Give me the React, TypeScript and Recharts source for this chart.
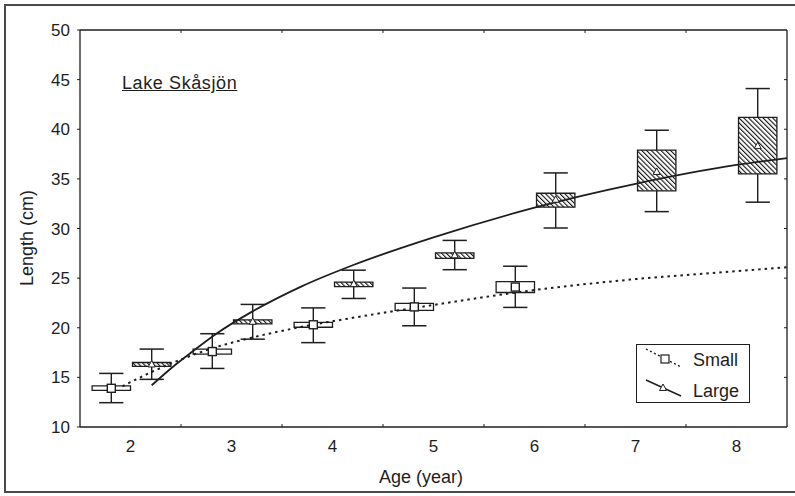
import React from "react";
import {
  ComposedChart,
  XAxis,
  YAxis,
  Line,
  Scatter,
  ReferenceArea,
  ReferenceLine,
  Legend,
} from "recharts";

const FONT = "'Liberation Sans', Arial, Helvetica, sans-serif";
const INK = "#1e1e1e";

// ages of the box plots
const ages = [2, 3, 4, 5, 6, 7, 8];
const yTicks = [10, 15, 20, 25, 30, 35, 40, 45, 50];
const minorX = [2.5, 3.5, 4.5, 5.5, 6.5, 7.5];

// small fish (ages 2-6)
const smallMin = [12.45, 15.9, 18.5, 20.2, 22.05];
const smallQ1 = [13.7, 17.35, 20.05, 21.75, 23.55];
const smallMean = [13.9, 17.6, 20.3, 22.1, 24.1];
const smallQ3 = [14.15, 17.85, 20.55, 22.45, 24.65];
const smallMax = [15.4, 19.4, 22.0, 24.0, 26.2];

// large fish (ages 2-8)
const largeMin = [14.8, 18.85, 22.95, 25.85, 30.05, 31.7, 32.65];
const largeQ1 = [16.1, 20.4, 24.15, 27.0, 32.15, 33.8, 35.5];
const largeMean = [16.3, 20.6, 24.4, 27.3, 32.9, 35.7, 38.3];
const largeQ3 = [16.5, 20.8, 24.6, 27.55, 33.55, 37.9, 41.2];
const largeMax = [17.85, 22.35, 25.8, 28.8, 35.6, 39.9, 44.1];

// fitted growth curves
const smallCurveAge = [1.92, 2.2, 2.5, 2.8, 3.2, 3.7, 4.2, 5, 6, 7, 8, 8.5];
const smallCurveLen = [14.1, 15.5, 16.8, 17.9, 19.0, 20.1, 21.0, 22.3, 23.8, 24.9, 25.7, 26.1];
const largeCurveAge = [2.21, 2.4, 2.6, 2.85, 3.2, 3.7, 4.2, 5, 6, 7, 8, 8.5];
const largeCurveLen = [14.2, 15.9, 17.5, 19.4, 21.6, 24.2, 26.3, 29.1, 32.1, 34.5, 36.4, 37.1];

const SMALL_OFF = -0.19;
const LARGE_OFF = 0.21;
const BOX_HALF = 0.19;
const CAP_HALF = 0.12;

type Box = { age: number; min: number; q1: number; mean: number; q3: number; max: number; kind: string };

const smallBoxes: Box[] = smallMean.map((m, i) => ({
  age: ages[i] + SMALL_OFF, min: smallMin[i], q1: smallQ1[i], mean: m, q3: smallQ3[i], max: smallMax[i], kind: "s",
}));
const largeBoxes: Box[] = largeMean.map((m, i) => ({
  age: ages[i] + LARGE_OFF, min: largeMin[i], q1: largeQ1[i], mean: m, q3: largeQ3[i], max: largeMax[i], kind: "l",
}));
const allBoxes = [...smallBoxes, ...largeBoxes];

const smallCurve = smallCurveAge.map((a, i) => ({ age: a, len: smallCurveLen[i] }));
const largeCurve = largeCurveAge.map((a, i) => ({ age: a, len: largeCurveLen[i] }));

const SquareMark = (p: any) => (
  <rect x={p.cx - 4} y={p.cy - 4} width={8} height={8} fill="#fff" stroke={INK} strokeWidth={1.4} />
);
const TriMark = (p: any) => (
  <polygon
    points={`${p.cx},${p.cy - 4} ${p.cx - 3.5},${p.cy + 2.5} ${p.cx + 3.5},${p.cy + 2.5}`}
    fill="#fff"
    stroke={INK}
    strokeWidth={1}
  />
);

const LegendBox = () => (
  <div style={{ width: 114, height: 59, border: `1.5px solid ${INK}`, background: "#fff", boxSizing: "border-box" }}>
    <svg width={112} height={56} style={{ display: "block" }}>
      <line x1={9} y1={4} x2={44} y2={22} stroke={INK} strokeWidth={1.4} strokeDasharray="2 2.5" />
      <rect x={24} y={10} width={8} height={8} fill="#fff" stroke={INK} strokeWidth={1.2} />
      <text x={56} y={21} fontSize={18} fontFamily={FONT} fill={INK}>Small</text>
      <line x1={9} y1={35} x2={44} y2={51} stroke={INK} strokeWidth={1.5} />
      <polygon points="26,39 22.5,45.5 29.5,45.5" fill="#fff" stroke={INK} strokeWidth={1} />
      <text x={56} y={52} fontSize={18} fontFamily={FONT} fill={INK}>Large</text>
    </svg>
  </div>
);

export default function App() {
  return (
    <div style={{ position: "absolute", left: 0, top: 0, width: 795, height: 496, background: "#fff", overflow: "hidden" }}>
      <div
        style={{
          position: "absolute", left: 4, top: 4, width: 800, height: 489,
          border: "2px solid #4a4a4a", boxSizing: "border-box",
        }}
      />
      <div
        style={{
          position: "absolute", left: 122, top: 73, fontFamily: FONT, fontSize: 18,
          letterSpacing: 0.6, color: INK, textDecoration: "underline", lineHeight: "20px",
        }}
      >
        Lake Skåsjön
      </div>
      <ComposedChart width={795} height={496} margin={{ top: 30, right: 8, bottom: 0, left: 0 }}>
        <defs>
          <pattern id="hatch" patternUnits="userSpaceOnUse" width={3.4} height={3.4} patternTransform="rotate(-45)">
            <rect width={3.4} height={3.4} fill="#fff" />
            <line x1={0} y1={0} x2={0} y2={3.4} stroke="#111" strokeWidth={2.2} />
          </pattern>
        </defs>
        <XAxis
          dataKey="age"
          type="number"
          domain={[1.5, 8.5]}
          ticks={ages}
          height={69}
          tickLine={false}
          tickSize={0}
          tickMargin={13}
          axisLine={{ stroke: INK, strokeWidth: 1.3 }}
          tick={{ fill: INK, fontSize: 17, fontFamily: FONT }}
          label={{
            content: () => (
              <text x={421} y={483} textAnchor="middle" fontSize={18} fontFamily={FONT} fill={INK}>
                Age (year)
              </text>
            ),
          }}
        />
        <YAxis
          type="number"
          domain={[10, 50]}
          ticks={yTicks}
          width={80}
          tickSize={3}
          tickMargin={7}
          axisLine={{ stroke: INK, strokeWidth: 1.3 }}
          tickLine={{ stroke: INK }}
          tick={{ fill: INK, fontSize: 17, fontFamily: FONT }}
          label={{
            content: () => (
              <text
                x={27}
                y={238}
                transform="rotate(-90 27 238)"
                textAnchor="middle"
                dominantBaseline="central"
                fontSize={18}
                fontFamily={FONT}
                fill={INK}
              >
                Length (cm)
              </text>
            ),
          }}
        />
        {/* plot frame top / right */}
        <ReferenceLine y={50} stroke={INK} strokeWidth={1.3} />
        <ReferenceLine x={8.5} stroke={INK} strokeWidth={1.3} />
        {/* inward minor ticks */}
        {minorX.map((x) => (
          <ReferenceLine key={`bt${x}`} segment={[{ x, y: 10 }, { x, y: 10.3 }]} stroke={INK} />
        ))}
        {minorX.map((x) => (
          <ReferenceLine key={`tt${x}`} segment={[{ x, y: 50 }, { x, y: 49.7 }]} stroke={INK} />
        ))}
        {yTicks.slice(1, -1).map((y) => (
          <ReferenceLine key={`rt${y}`} segment={[{ x: 8.5, y }, { x: 8.47, y }]} stroke={INK} />
        ))}
        {/* whiskers */}
        {allBoxes.map((b) => (
          <ReferenceLine key={`wu${b.kind}${b.age}`} segment={[{ x: b.age, y: b.q3 }, { x: b.age, y: b.max }]} stroke={INK} strokeWidth={1.4} />
        ))}
        {allBoxes.map((b) => (
          <ReferenceLine key={`wl${b.kind}${b.age}`} segment={[{ x: b.age, y: b.min }, { x: b.age, y: b.q1 }]} stroke={INK} strokeWidth={1.4} />
        ))}
        {allBoxes.map((b) => (
          <ReferenceLine key={`cu${b.kind}${b.age}`} segment={[{ x: b.age - CAP_HALF, y: b.max }, { x: b.age + CAP_HALF, y: b.max }]} stroke={INK} strokeWidth={1.5} />
        ))}
        {allBoxes.map((b) => (
          <ReferenceLine key={`cl${b.kind}${b.age}`} segment={[{ x: b.age - CAP_HALF, y: b.min }, { x: b.age + CAP_HALF, y: b.min }]} stroke={INK} strokeWidth={1.5} />
        ))}
        {/* boxes */}
        {allBoxes.map((b) => (
          <ReferenceArea
            key={`bx${b.kind}${b.age}`}
            x1={b.age - BOX_HALF}
            x2={b.age + BOX_HALF}
            y1={b.q1}
            y2={b.q3}
            fill={b.kind === "l" ? "url(#hatch)" : "#fff"}
            fillOpacity={1}
            stroke={INK}
            strokeWidth={1.3}
          />
        ))}
        <Line
          data={smallCurve}
          dataKey="len"
          type="monotone"
          stroke={INK}
          strokeWidth={2}
          strokeDasharray="2.5 4"
          dot={false}
          activeDot={false}
          isAnimationActive={false}
        />
        <Line
          data={largeCurve}
          dataKey="len"
          type="monotone"
          stroke={INK}
          strokeWidth={1.8}
          dot={false}
          activeDot={false}
          isAnimationActive={false}
        />
        <Scatter data={smallBoxes} dataKey="mean" shape={SquareMark} isAnimationActive={false} />
        <Scatter data={largeBoxes} dataKey="mean" shape={TriMark} isAnimationActive={false} />
        <Legend
          content={LegendBox}
          layout="horizontal"
          verticalAlign="middle"
          align="center"
          wrapperStyle={{ left: 636, top: 344, width: 114, height: 59 }}
        />
      </ComposedChart>
    </div>
  );
}
